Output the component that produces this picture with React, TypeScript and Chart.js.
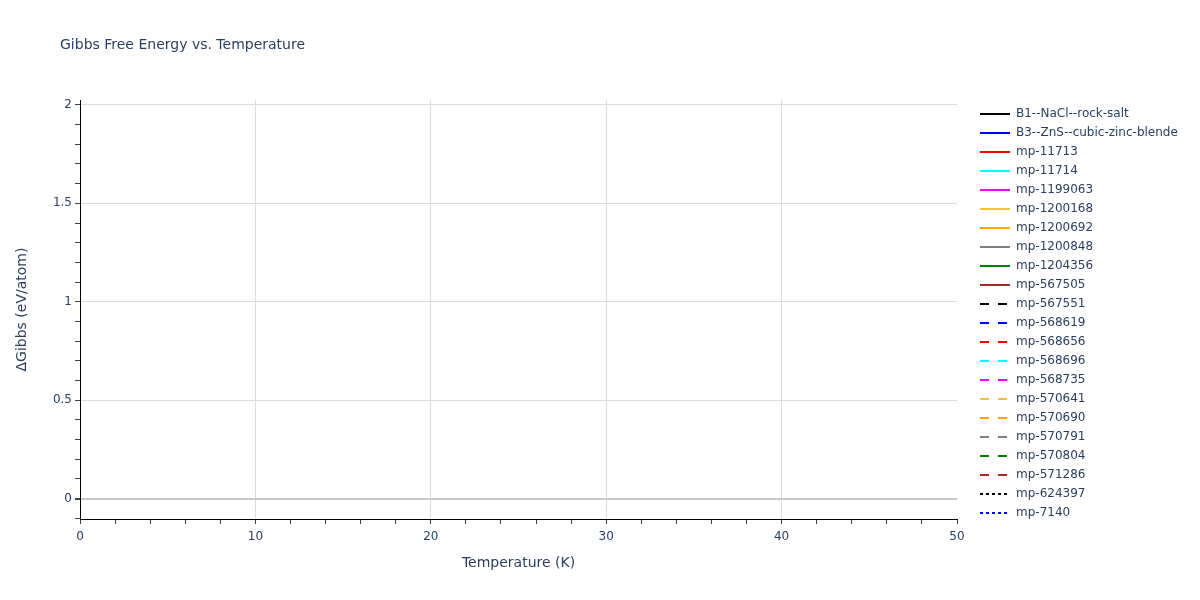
import React, { useRef, useEffect } from 'react';
import { Chart, registerables } from 'chart.js';

Chart.register(...registerables);

const FONT = '"DejaVu Sans", Verdana, sans-serif';
const TEXT = '#2a3f5f';

// phases / materials shown in the legend
const names = [
  'B1--NaCl--rock-salt', 'B3--ZnS--cubic-zinc-blende', 'mp-11713', 'mp-11714',
  'mp-1199063', 'mp-1200168', 'mp-1200692', 'mp-1200848', 'mp-1204356', 'mp-567505',
  'mp-567551', 'mp-568619', 'mp-568656', 'mp-568696', 'mp-568735', 'mp-570641',
  'mp-570690', 'mp-570791', 'mp-570804', 'mp-571286', 'mp-624397', 'mp-7140',
];
const colors = [
  '#000000', '#0000ff', '#ff0000', '#00ffff', '#ff00ff', '#f0c435', '#ffa500',
  '#808080', '#008000', '#a52a2a',
];
const dashes = ['solid', 'dash', 'dot'];

// no points are plotted in the reference: every trace is empty
const temperatures: number[] = [];
const gibbs: number[][] = names.map(() => []);

const xRange = [0, 50];
const yRange = [-0.104, 2.025];
const xMinorStep = 2;
const yMinorStep = 0.1;

const dashArray = (d: string) => (d === 'dash' ? [9, 9] : d === 'dot' ? [3, 3] : []);

const near = (v: number, step: number, eps: number) =>
  Math.abs(v / step - Math.round(v / step)) * step < eps;

const stepTicks = (lo: number, hi: number, step: number) => {
  const out: { value: number }[] = [];
  for (let k = Math.ceil(lo / step - 1e-9); k * step <= hi + 1e-9; k++) {
    out.push({ value: Math.round(k * step * 1000) / 1000 });
  }
  return out;
};

const titlePlugin = {
  id: 'plotTitle',
  afterDraw(chart: Chart) {
    const ctx = chart.ctx;
    ctx.save();
    ctx.font = `14px ${FONT}`;
    ctx.fillStyle = TEXT;
    ctx.textBaseline = 'middle';
    ctx.textAlign = 'left';
    ctx.fillText('Gibbs Free Energy vs. Temperature', 60, 45);
    ctx.restore();
  },
};

const legendPlugin = {
  id: 'sideLegend',
  afterDraw(chart: Chart) {
    const ctx = chart.ctx;
    ctx.save();
    ctx.font = `12px ${FONT}`;
    ctx.textBaseline = 'middle';
    chart.data.datasets.forEach((ds: any, i: number) => {
      const y = 114 + i * 19;
      ctx.strokeStyle = ds.borderColor;
      ctx.lineWidth = 2;
      ctx.setLineDash(ds.borderDash || []);
      ctx.beginPath();
      ctx.moveTo(980, y);
      ctx.lineTo(1010, y);
      ctx.stroke();
      ctx.setLineDash([]);
      ctx.fillStyle = TEXT;
      ctx.fillText(ds.label, 1016, y);
    });
    ctx.restore();
  },
};

export default function App() {
  const canvasRef = useRef<HTMLCanvasElement>(null);

  useEffect(() => {
    const ctx = canvasRef.current?.getContext('2d');
    if (!ctx) return;

    Chart.defaults.font.family = FONT;
    Chart.defaults.color = TEXT;

    const chart = new Chart(ctx, {
      type: 'line',
      data: {
        datasets: names.map((name, i) => ({
          label: name,
          data: temperatures.map((t, k) => ({ x: t, y: gibbs[i][k] })),
          borderColor: colors[i % 10],
          backgroundColor: colors[i % 10],
          borderWidth: 2,
          borderDash: dashArray(dashes[Math.floor(i / 10)]),
          pointRadius: 0,
          fill: false,
        })),
      },
      options: {
        animation: false,
        responsive: true,
        maintainAspectRatio: false,
        layout: { padding: { left: 0, top: 100, right: 243, bottom: 0 } },
        plugins: {
          legend: { display: false },
          title: { display: false },
          tooltip: { enabled: false },
        },
        scales: {
          x: {
            type: 'linear',
            min: xRange[0],
            max: xRange[1],
            afterFit: (scale: any) => { scale.height = 81; },
            afterBuildTicks: (scale: any) => {
              scale.ticks = stepTicks(xRange[0], xRange[1], xMinorStep);
            },
            title: {
              display: true,
              text: 'Temperature (K)',
              font: { size: 14 },
              color: TEXT,
              padding: { top: 0, bottom: 28.6 },
            },
            ticks: {
              autoSkip: false,
              maxRotation: 0,
              padding: 6,
              font: { size: 12 },
              callback: (v: any) => (near(Number(v), 10, 1e-6) ? String(v) : ''),
            },
            grid: {
              drawTicks: true,
              tickLength: 5,
              color: (c: any) => {
                const v = c.tick?.value;
                return v > 0 && v < 50 && near(v, 10, 1e-6) ? '#dcdcdc' : 'rgba(0,0,0,0)';
              },
              tickColor: '#444',
            },
            border: { display: true, color: '#000', width: 1 },
          },
          y: {
            type: 'linear',
            min: yRange[0],
            max: yRange[1],
            afterFit: (scale: any) => { scale.width = 80; },
            afterBuildTicks: (scale: any) => {
              scale.ticks = stepTicks(yRange[0], yRange[1], yMinorStep);
            },
            title: {
              display: true,
              text: 'ΔGibbs (eV/atom)',
              font: { size: 14 },
              color: TEXT,
              padding: { top: 13.6, bottom: 0 },
            },
            ticks: {
              autoSkip: false,
              padding: 3,
              font: { size: 12 },
              callback: (v: any) =>
                near(Number(v), 0.5, 1e-6) ? String(Math.round(Number(v) * 10) / 10) : '',
            },
            grid: {
              drawTicks: true,
              tickLength: 5,
              color: (c: any) => {
                const v = c.tick?.value;
                if (v === undefined) return 'rgba(0,0,0,0)';
                if (Math.abs(v) < 1e-6) return '#c8c8c8';
                return near(v, 0.5, 1e-6) ? '#dcdcdc' : 'rgba(0,0,0,0)';
              },
              lineWidth: (c: any) => (Math.abs(c.tick?.value ?? 1) < 1e-6 ? 2 : 1),
              tickColor: '#444',
            },
            border: { display: true, color: '#000', width: 1 },
          },
        },
      },
      plugins: [titlePlugin, legendPlugin],
    });

    return () => chart.destroy();
  }, []);

  return (
    <div style={{ position: 'absolute', left: 0, top: 0, width: 1200, height: 600, background: '#fff' }}>
      <canvas ref={canvasRef} />
    </div>
  );
}
